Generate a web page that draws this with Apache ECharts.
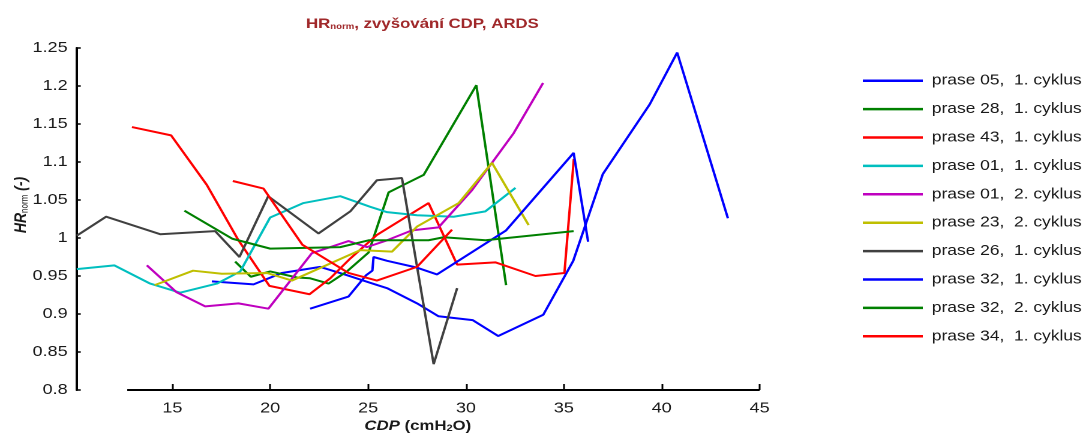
<!DOCTYPE html>
<html>
<head>
<meta charset="utf-8">
<script src="https://cdn.jsdelivr.net/npm/echarts@6/dist/echarts.min.js"></script>
<style>
  html, body { margin: 0; padding: 0; background: #fff; overflow: hidden; }
  /* The plot is laid out on a narrower canvas and widened with scaleX,
     which gives the wide-set lettering of the figure. */
  #chart { width: 905px; height: 435px; transform: scaleX(1.2); transform-origin: 0 0; }
</style>
</head>
<body>
<div id="chart"></div>
<script>
// ---- data: CDP (cmH2O) vs. normalised heart rate, one array per animal / cycle ----
const seriesNames = [
  'prase 05,  1. cyklus', 'prase 28,  1. cyklus', 'prase 43,  1. cyklus',
  'prase 01,  1. cyklus', 'prase 01,  2. cyklus', 'prase 23,  2. cyklus',
  'prase 26,  1. cyklus', 'prase 32,  1. cyklus', 'prase 32,  2. cyklus',
  'prase 34,  1. cyklus'
];
const seriesColors = ['#0000ff', '#008000', '#ff0000', '#00bfbf', '#bf00bf',
                      '#bfbf00', '#404040', '#0000ff', '#008000', '#ff0000'];

const prase05c1 = [[17.02,0.943],[19.15,0.939],[20.6,0.954],[22.56,0.962],[23.92,0.951],
  [25.11,0.941],[25.97,0.934],[27.5,0.914],[28.6,0.897],[30.34,0.892],[31.65,0.871],
  [33.95,0.899],[35.48,0.970],[36.99,1.084],[39.39,1.176],[40.79,1.244],[43.38,1.026]];
const prase28c1 = [[18.21,0.969],[19.01,0.949],[20.0,0.956],[21.37,0.948],[22.04,0.947],
  [22.98,0.940],[23.92,0.956],[25.03,0.981],[26.05,1.060],[26.82,1.070],[27.84,1.083],
  [30.53,1.201],[32.05,0.938]];
const prase43c1 = [[12.94,1.146],[14.94,1.135],[16.76,1.070],[18.38,0.997],[19.96,0.937],
  [22.01,0.926],[23.07,0.947],[24.09,0.973],[25.45,1.004],[28.09,1.046],[29.55,0.965],
  [31.5,0.968],[33.55,0.950],[35.03,0.954],[35.51,1.104]];
const prase01c1 = [[10.12,0.959],[12.04,0.964],[13.87,0.940],[15.4,0.928],[17.28,0.940],
  [18.47,0.956],[20.0,1.027],[21.7,1.046],[23.58,1.055],[25.11,1.041],[25.97,1.034],
  [27.5,1.030],[29.37,1.028],[30.99,1.035],[32.53,1.066]];
const prase01c2 = [[13.7,0.964],[15.2,0.929],[16.68,0.910],[18.38,0.914],[19.91,0.907],
  [22.13,0.980],[24.0,0.996],[24.94,0.988],[25.97,0.997],[27.24,1.010],[28.6,1.014],
  [30.31,1.063],[32.44,1.138],[33.94,1.204]];
const prase23c2 = [[14.1,0.938],[16.06,0.957],[17.53,0.953],[19.83,0.954],[21.11,0.944],
  [24.6,0.984],[26.22,0.982],[27.5,1.015],[29.63,1.046],[31.33,1.099],[33.2,1.017]];
const prase26c1 = [[10.12,1.003],[11.62,1.028],[14.38,1.005],[17.19,1.009],[18.43,0.975],
  [19.9,1.055],[22.47,1.006],[24.09,1.035],[25.45,1.076],[26.73,1.079],[28.35,0.834],
  [29.55,0.934]];
const prase32c1 = [[22.04,0.907],[24.0,0.923],[24.9,0.951],[25.22,0.957],[25.28,0.975],
  [25.97,0.970],[27.5,0.961],[28.52,0.952],[32.05,1.010],[35.5,1.112],[36.24,0.995]];
const prase32c2 = [[15.62,1.036],[18.07,0.999],[20.0,0.986],[23.58,0.988],[25.03,0.997],
  [28.09,0.997],[28.86,1.001],[31.0,0.997],[35.5,1.009]];
const prase34c1 = [[18.09,1.075],[19.66,1.065],[21.65,0.991],[24.0,0.954],[25.45,0.944],
  [27.5,0.962],[29.29,1.011]];

const seriesData = [prase05c1, prase28c1, prase43c1, prase01c1, prase01c2,
                    prase23c2, prase26c1, prase32c1, prase32c2, prase34c1];

// axis ranges and ticks
const xRange = [10.08, 45];
const xTickValues = [15, 20, 25, 30, 35, 40, 45];
const xBaseline = [12.7, 45];          // extent of the drawn CDP axis line
const yRange = [0.8, 1.25];
const yStep = 0.05;

// ---- chart ----
const FONT = '"Liberation Sans", Arial, sans-serif';
const TXT = '#1a1a1a';
const chart = echarts.init(document.getElementById('chart'), null, { devicePixelRatio: 2 });

const lineSeries = seriesNames.map((name, i) => ({
  name: name,
  type: 'line',
  data: seriesData[i],
  symbol: 'none',
  smooth: false,
  color: seriesColors[i],
  lineStyle: { width: 2, color: seriesColors[i] },
  emphasis: { disabled: true },
  z: 3
}));

// horizontal axis line, shorter than the plotting range
lineSeries.push({
  name: 'cdpAxisLine',
  type: 'line',
  data: [[xBaseline[0], yRange[0]], [xBaseline[1], yRange[0]]],
  symbol: 'none',
  silent: true,
  clip: false,
  lineStyle: { width: 2, color: '#000' },
  emphasis: { disabled: true },
  z: 4
});

chart.setOption({
  animation: false,
  backgroundColor: '#fff',
  title: {
    text: '{h|HR}{s|norm}{h|, zvyšování CDP, ARDS}',
    left: 352,
    top: 15,
    padding: 0,
    textAlign: 'center',
    textStyle: {
      rich: {
        h: { fontFamily: FONT, fontSize: 14, fontWeight: 'bold', color: '#a0282a', lineHeight: 16, verticalAlign: 'bottom' },
        s: { fontFamily: FONT, fontSize: 8, fontWeight: 'bold', color: '#a0282a', lineHeight: 11, verticalAlign: 'bottom' }
      }
    }
  },
  legend: {
    orient: 'vertical',
    left: 719,
    top: 72.2,
    padding: 0,
    itemWidth: 50,
    itemHeight: 2.5,
    itemGap: 11.4,
    icon: 'rect',
    selectedMode: false,
    data: seriesNames,
    textStyle: { fontFamily: FONT, fontSize: 14.5, color: TXT, lineHeight: 17, padding: [0, 0, 0, 2.5] }
  },
  grid: { left: 63.3, right: 272, top: 48, bottom: 45, containLabel: false, outerBoundsMode: 'none' },
  xAxis: {
    type: 'value',
    min: xRange[0],
    max: xRange[1],
    name: '{b|CDP}{n| (cmH}{s|2}{n|O)}',
    nameLocation: 'middle',
    nameGap: 27,
    nameMoveOverlap: false,
    nameTextStyle: {
      rich: {
        b: { fontFamily: FONT, fontSize: 14, fontWeight: 'bold', fontStyle: 'italic', color: TXT, lineHeight: 16, verticalAlign: 'bottom' },
        n: { fontFamily: FONT, fontSize: 14, fontWeight: 'bold', color: TXT, lineHeight: 16, verticalAlign: 'bottom' },
        s: { fontFamily: FONT, fontSize: 9, fontWeight: 'bold', color: TXT, lineHeight: 12, verticalAlign: 'bottom' }
      }
    },
    axisLine: { show: false },
    axisTick: { show: true, inside: true, length: 6, customValues: xTickValues, lineStyle: { color: '#000', width: 1.5 } },
    axisLabel: { customValues: xTickValues, margin: 11, fontFamily: FONT, fontSize: 15, color: TXT },
    splitLine: { show: false }
  },
  yAxis: {
    type: 'value',
    min: yRange[0],
    max: yRange[1],
    interval: yStep,
    name: '{b|HR}{s|norm}{b| (-)}',
    nameLocation: 'middle',
    nameGap: 38.5,
    nameMoveOverlap: false,
    nameTextStyle: {
      padding: [0, 0, 0, 28],
      rich: {
        b: { fontFamily: FONT, fontSize: 14, fontWeight: 'bold', fontStyle: 'italic', color: TXT, lineHeight: 16, verticalAlign: 'bottom' },
        s: { fontFamily: FONT, fontSize: 8, color: TXT, lineHeight: 12, verticalAlign: 'bottom' }
      }
    },
    axisLine: { show: true, lineStyle: { color: '#000', width: 2 } },
    axisTick: { show: true, inside: true, length: 4, lineStyle: { color: '#000', width: 1.5 } },
    axisLabel: {
      margin: 7, fontFamily: FONT, fontSize: 15, color: TXT,
      formatter: v => String(parseFloat(v.toFixed(2)))
    },
    splitLine: { show: false }
  },
  series: lineSeries
});
</script>
</body>
</html>
